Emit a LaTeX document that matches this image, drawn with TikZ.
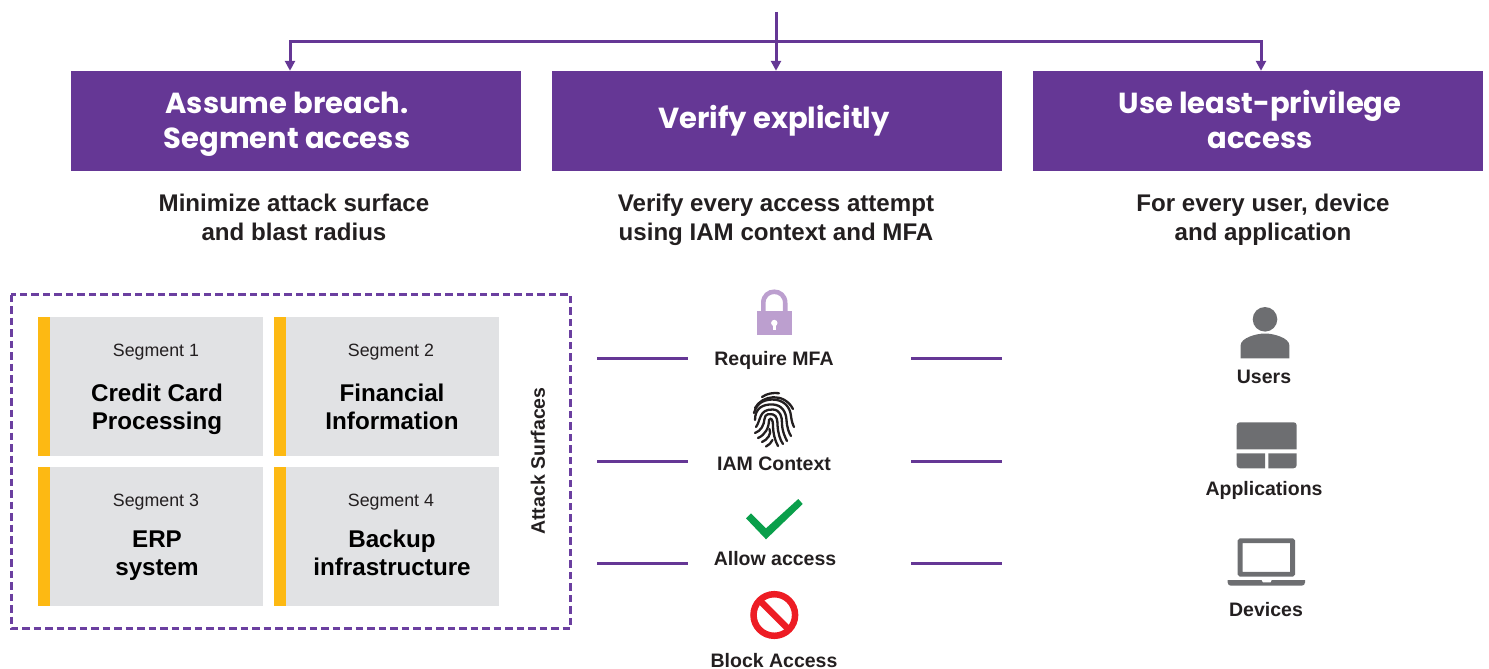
\documentclass[tikz,border=0pt]{standalone}
\usepackage{fontspec}
\setmainfont{Liberation Sans}
\newfontfamily\popf{Poppins}
\usetikzlibrary{arrows.meta}
\definecolor{brand}{HTML}{653795}
\definecolor{dashc}{HTML}{6B3FA0}
\definecolor{segbg}{HTML}{E1E2E4}
\definecolor{segbar}{HTML}{FDB913}
\definecolor{inkc}{HTML}{231F20}
\definecolor{icong}{HTML}{6D6E71}
\definecolor{lockc}{HTML}{BC9FCF}
\definecolor{okc}{HTML}{0A9F4B}
\definecolor{noc}{HTML}{ED1C24}
\tikzset{
  hdrbox/.style={fill=brand,draw=none,minimum width=450pt,minimum height=100pt,inner sep=0},
  hdrtext/.style={text=white,align=center,inner sep=0,font=\popf\bfseries\fontsize{29}{35}\selectfont},
  subtext/.style={text=inkc,align=center,inner sep=0,font=\bfseries\fontsize{24.1}{29}\selectfont},
  segbox/.style={fill=segbg,draw=none,minimum width=225pt,minimum height=139pt,inner sep=0},
  segbarbox/.style={fill=segbar,draw=none,minimum width=12pt,minimum height=139pt,inner sep=0},
  segtag/.style={text=inkc,inner sep=0,font=\fontsize{17.8}{20}\selectfont},
  segname/.style={text=black,align=center,inner sep=0,font=\bfseries\fontsize{24.2}{28.4}\selectfont},
  lbl/.style={text=inkc,inner sep=0,font=\bfseries\fontsize{19.5}{22}\selectfont},
  flow/.style={brand,line width=3pt},
  flowtip/.style={flow,-{Triangle[width=10pt,length=10pt]}},
  rule/.style={brand,line width=3pt},
  fp/.style={inkc,line width=2.3pt,line cap=round}
}
\begin{document}
\begin{tikzpicture}[x=1pt,y=-1pt]
\useasboundingbox (0,0) rectangle (1489,669);
% headers
\node[hdrbox] (boxA) at (296,121) {};
\node[hdrbox] (boxB) at (777,121) {};
\node[hdrbox] (boxC) at (1258,121) {};
\node[hdrtext] (hA) at (287,124.5) {Assume breach.\\Segment access};
\node[hdrtext] (hB) at (774,121) {Verify explicitly};
\node[hdrtext] (hC) at (1260,120) {Use least-privilege\\access};
% connectors
\coordinate (top) at (776,12);
\coordinate (bus) at (776,42);
\coordinate (armL) at (290,42);
\coordinate (armR) at (1261,42);
\draw[flowtip] (top) -- (top |- boxB.north);
\draw[flow,line cap=rect] (armL) -- (armR);
\draw[flowtip] (armL) -- (armL |- boxA.north);
\draw[flowtip] (armR) -- (armR |- boxC.north);
% subtitles
\node[subtext] (sA) at (294,217) {Minimize attack surface\\and blast radius};
\node[subtext] (sB) at (776,220) {Verify every access attempt\\using IAM context and MFA};
\node[subtext] (sC) at (1263,220) {For every user, device\\and application};
% dashed frame
\draw[dashc,line width=3pt,dash pattern=on 7.5pt off 4pt] (11,294.5) rectangle (570.5,628.5);
% segments
\node[segbox] (g1) at (150.5,386.5) {};
\node[segbox] (g2) at (386.5,386.5) {};
\node[segbox] (g3) at (150.5,536.5) {};
\node[segbox] (g4) at (386.5,536.5) {};
\node[segbarbox,anchor=west] (b1) at (g1.west) {};
\node[segbarbox,anchor=west] (b2) at (g2.west) {};
\node[segbarbox,anchor=west] (b3) at (g3.west) {};
\node[segbarbox,anchor=west] (b4) at (g4.west) {};
\node[segtag] (t1) at (156,352) {Segment 1};
\node[segtag] (t2) at (391,352) {Segment 2};
\node[segtag] (t3) at (156,502) {Segment 3};
\node[segtag] (t4) at (391,502) {Segment 4};
\node[segname] (n1) at (157,409) {Credit Card\\Processing};
\node[segname] (n2) at (392,407) {Financial\\Information};
\node[segname] (n3) at (157,555.5) {ERP\\system};
\node[segname] (n4) at (392,553) {Backup\\infrastructure};
\node[lbl,rotate=90] (atk) at (538,461) {Attack Surfaces};
% centre labels
\node[lbl] (lMFA) at (774,360) {Require MFA};
\node[lbl] (lIAM) at (774,464) {IAM Context};
\node[lbl] (lAllow) at (775,559) {Allow access};
\node[lbl] (lBlock) at (774,660.5) {Block Access};
% rules
\foreach \yy/\nm in {358/a,461/b,563/c}{
  \coordinate (p\nm) at (597,\yy); \coordinate (q\nm) at (688,\yy);
  \coordinate (r\nm) at (911,\yy); \coordinate (s\nm) at (1002,\yy);
  \draw[rule] (p\nm) -- (q\nm);
  \draw[rule] (r\nm) -- (s\nm);
}
% lock
\draw[lockc,line width=4.6pt] (763.3,312) -- (763.3,303) .. controls (763.3,288) and (785.2,288) .. (785.2,303) -- (785.2,312);
\fill[lockc] (757,311) rectangle (792,335);
\fill[white] (774.3,323) circle (3.2);
\fill[white] (773,324) rectangle (775.6,330);
% fingerprint
\draw[fp] (762,397) .. controls (767,393.5) and (773,392.5) .. (779,393.2);
\draw[fp] (755,408) .. controls (762,395) and (784,392) .. (793,409);
\draw[fp] (754,413) .. controls (757,403) and (763,400) .. (772,399.5) .. controls (783,399.5) and (790,406) .. (791,416) .. controls (791.5,421) and (793,425) .. (794,427);
\draw[fp] (755,420) .. controls (755,408) and (763,404) .. (773,404.5) .. controls (782,405) and (786,412) .. (786.5,420) .. controls (787,428) and (789,433) .. (791,436);
\draw[fp] (756,427) .. controls (761,420) and (759,409) .. (773,409.5) .. controls (780,410) and (782,416) .. (782,423) .. controls (782,431) and (785,437) .. (787,441);
\draw[fp] (755,433) .. controls (761,431) and (764,425) .. (764.5,419) .. controls (765,413) and (770,414) .. (773,414.5) .. controls (777,415.5) and (777.5,421) .. (777.5,425) .. controls (778,433) and (780,440) .. (783,444);
\draw[fp] (758,438) .. controls (765,435) and (769,428) .. (769,420) .. controls (771,417) and (773,420) .. (773,425) .. controls (773,433) and (775,441) .. (778,446);
\draw[fp] (762,442) .. controls (767,440) and (772,434) .. (769.5,429);
\draw[fp] (766,446.5) .. controls (769,445) and (771,443) .. (772.5,440);
% check
\fill[okc] (746,518.3) -- (751,513.3) -- (766,528.3) -- (798.3,499) -- (802.7,504) -- (766,539.3) -- cycle;
% block
\draw[noc,line width=6.5pt] (774.3,615) circle (20.8);
\draw[noc,line width=6.5pt] (759.6,600.3) -- (789,629.7);
% user
\fill[icong] (1265,319.3) circle (12.3);
\fill[icong] (1240.7,358.3) -- (1240.7,345) .. controls (1241,338) and (1256,333.5) .. (1265,333.5) .. controls (1274,333.5) and (1289,338) .. (1289.3,345) -- (1289.3,358.3) -- cycle;
% applications
\fill[icong] (1236.7,449.3) -- (1236.7,425.3) .. controls (1236.7,423.3) and (1238,422.3) .. (1240,422.3) -- (1293.4,422.3) .. controls (1295.4,422.3) and (1296.7,423.3) .. (1296.7,425.3) -- (1296.7,449.3) -- cycle;
\fill[icong] (1236.7,453.3) -- (1265,453.3) -- (1265,468.3) -- (1240,468.3) .. controls (1238,468.3) and (1236.7,467) .. (1236.7,465) -- cycle;
\fill[icong] (1268.3,453.3) -- (1296.7,453.3) -- (1296.7,465) .. controls (1296.7,467) and (1295.4,468.3) .. (1293.4,468.3) -- (1268.3,468.3) -- cycle;
% laptop
\draw[icong,line width=4.8pt,rounded corners=.8pt] (1240.1,574.3) -- (1240.1,540.7) -- (1292.6,540.7) -- (1292.6,574.3) -- cycle;
\fill[icong] (1227.7,580) -- (1305,580) -- (1305,582.5) .. controls (1305,584.5) and (1303.5,585.7) .. (1301.5,585.7) -- (1231,585.7) .. controls (1229,585.7) and (1227.7,584.5) .. (1227.7,582.5) -- cycle;
\fill[white] (1261.7,580) -- (1271.7,580) -- (1270.5,582.3) -- (1262.9,582.3) -- cycle;
% right labels
\node[lbl] (lU) at (1264,376.5) {Users};
\node[lbl] (lApp) at (1264,490) {Applications};
\node[lbl] (lDev) at (1266,610) {Devices};
\end{tikzpicture}
\end{document}
